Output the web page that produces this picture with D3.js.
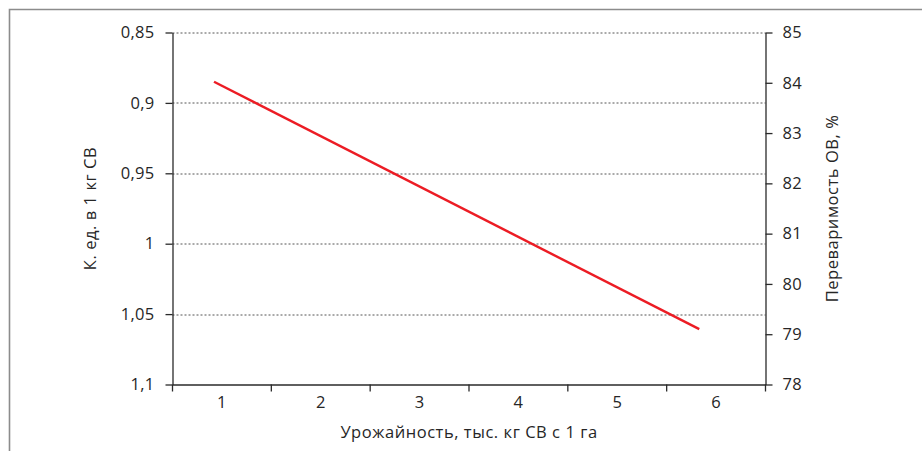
<!DOCTYPE html>
<html>
<head>
<meta charset="utf-8">
<script src="https://cdn.jsdelivr.net/npm/d3@7"></script>
<style>
  html, body { margin: 0; padding: 0; background: #fff; }
  svg { display: block; }
  .ax text { font-family: "Open Sans", sans-serif; font-size: 16.5px; fill: #262626; letter-spacing: 0.3px; }
  .ax path, .ax line { stroke: #2a2a2a; stroke-width: 1.3; }
  .title { font-family: "Open Sans", sans-serif; font-size: 16.5px; fill: #262626; letter-spacing: 0.55px; }
</style>
</head>
<body>
<div id="chart"></div>
<script>
// --- data ------------------------------------------------------------
var categories = ["1", "2", "3", "4", "5", "6"];
var leftTicks = [0.85, 0.9, 0.95, 1, 1.05, 1.1];
var rightTicks = [78, 79, 80, 81, 82, 83, 84, 85];
// line position in category units (1..6) and value on the right axis (%)
var lineX = [0.92, 5.83];
var lineY = [84.02, 79.1];

// --- layout ----------------------------------------------------------
var W = 922, H = 451;
var margin = { top: 32.5, left: 172.5, right: 156.5, bottom: 66.5 };
var iw = W - margin.left - margin.right;
var ih = H - margin.top - margin.bottom;

var svg = d3.select("#chart").append("svg").attr("width", W).attr("height", H);

// outer frame (open at right / bottom, runs off the picture)
svg.append("path")
  .attr("d", "M9.5," + (H + 5) + " V9.5 H" + (W + 5))
  .attr("fill", "none").attr("stroke", "#8c8c8c").attr("stroke-width", 1.6);

var g = svg.append("g").attr("transform", "translate(" + margin.left + "," + margin.top + ")");

var x = d3.scaleBand().domain(categories).range([0, iw]).padding(0);
var xc = d3.scaleLinear().domain([0.5, categories.length + 0.5]).range([0, iw]);
var yL = d3.scaleLinear().domain([0.85, 1.1]).range([0, ih]);
var yR = d3.scaleLinear().domain([78, 85]).range([ih, 0]);

var comma = function (d) { return String(d).replace(".", ","); };

// --- gridlines (dotted, at left-axis ticks) ---------------------------
g.append("g").selectAll("line")
  .data(leftTicks.filter(function (d) { return d < 1.1; }))
  .enter().append("line")
  .attr("x1", 0).attr("x2", iw)
  .attr("y1", function (d) { return Math.round(yL(d)) + 0.5; })
  .attr("y2", function (d) { return Math.round(yL(d)) + 0.5; })
  .attr("stroke", "#555").attr("stroke-width", 1)
  .attr("stroke-dasharray", "2 2");

// --- axes ------------------------------------------------------------
g.append("g").attr("class", "ax")
  .call(d3.axisLeft(yL).tickValues(leftTicks).tickFormat(comma)
    .tickSize(7).tickPadding(11).tickSizeOuter(0));

g.append("g").attr("class", "ax")
  .attr("transform", "translate(" + iw + ",0)")
  .call(d3.axisRight(yR).tickValues(rightTicks).tickFormat(d3.format("d"))
    .tickSize(7).tickPadding(10).tickSizeOuter(0));

// bottom: labels at category centres, ticks on the band boundaries
var xa = g.append("g").attr("class", "ax")
  .attr("transform", "translate(0," + ih + ")")
  .call(d3.axisBottom(x).tickSize(0).tickPadding(12).tickSizeOuter(0));
xa.selectAll(".tick line").remove();
var bounds = categories.map(function (c) { return x(c); }).concat([x(categories[categories.length - 1]) + x.bandwidth()]);
xa.selectAll(".bnd").data(bounds).enter().append("line")
  .attr("class", "bnd")
  .attr("x1", function (d) { return d; }).attr("x2", function (d) { return d; })
  .attr("y1", 0).attr("y2", 7);

// --- axis titles -----------------------------------------------------
svg.append("text").attr("class", "title")
  .attr("x", margin.left + iw / 2).attr("y", 438)
  .attr("text-anchor", "middle")
  .text("Урожайность, тыс. кг СВ с 1 га");

svg.append("text").attr("class", "title")
  .attr("transform", "translate(96," + (margin.top + ih / 2) + ") rotate(-90)")
  .attr("text-anchor", "middle")
  .text("К. ед. в 1 кг СВ");

svg.append("text").attr("class", "title")
  .attr("transform", "translate(838," + (margin.top + ih / 2) + ") rotate(-90)")
  .attr("text-anchor", "middle")
  .text("Переваримость ОВ, %");

// --- series line -----------------------------------------------------
var pts = lineX.map(function (v, i) { return [v, lineY[i]]; });
g.append("path")
  .datum(pts)
  .attr("fill", "none").attr("stroke", "#ec1c24").attr("stroke-width", 2.4)
  .attr("d", d3.line()
    .x(function (d) { return xc(d[0]); })
    .y(function (d) { return yR(d[1]); }));
</script>
</body>
</html>
